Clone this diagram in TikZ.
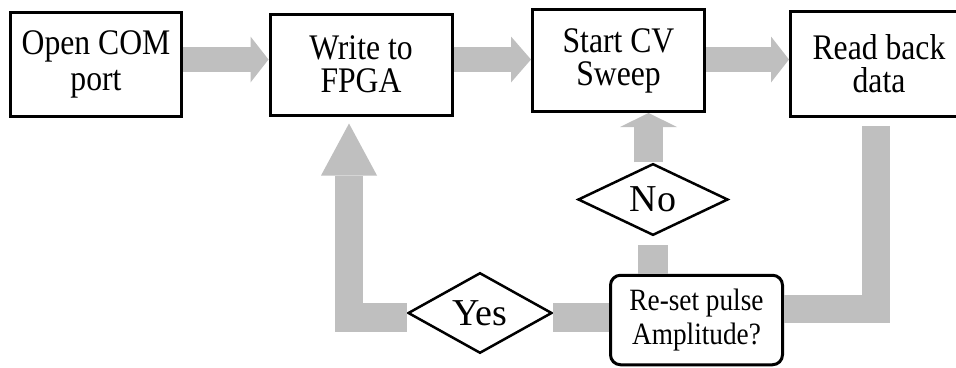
\documentclass[tikz,border=0pt]{standalone}
\usepackage{fontspec}
\setmainfont{Liberation Serif}
\newfontfamily\stepfont[FakeStretch=0.88]{Liberation Serif}
\usepackage{xcolor}
\usepackage{tikz}
\usetikzlibrary{shapes.geometric, arrows.meta, positioning, calc}

\definecolor{flowgray}{RGB}{191,191,191}

\tikzset{
  stepbox/.style={draw, line width=3pt, inner sep=0pt, align=center,
    font=\stepfont\fontsize{36pt}{33pt}\selectfont},
  decisionbox/.style={draw, line width=3pt, rounded corners=10pt, inner sep=0pt, align=center,
    font=\stepfont\fontsize{31pt}{34pt}\selectfont},
  answer/.style={draw, diamond, line width=2.5pt, inner sep=0pt,
    font=\fontsize{38pt}{40pt}\selectfont},
  fatpath/.style={draw=flowgray, line width=#1, line cap=butt},
  fatpath/.default=28pt
}

\begin{document}
\begin{tikzpicture}[x=1pt, y=-1pt, line join=miter]
  \path[use as bounding box, clip] (0,0) rectangle (956,367);

  % Process steps
  \node[stepbox, minimum width=171pt, minimum height=104pt,
    font=\stepfont\fontsize{36pt}{36pt}\selectfont] (port) at (96,64) {Open COM\\port};
  \node[stepbox, minimum width=182pt, minimum height=101pt] (fpga) at (361,64.5) {Write to\\FPGA};
  \node[stepbox, minimum width=172pt, minimum height=102pt] (sweep) at (618.5,60.5) {Start CV\\Sweep};
  \node[stepbox, minimum width=177pt, minimum height=104.5pt] (readback) at (879,64) {Read back\\data};

  % Decision and answers
  \node[decisionbox, minimum width=172pt, minimum height=89.5pt] (reset) at (696.5,320) {Re-set pulse\\Amplitude?};
  \node[answer, minimum width=144pt, minimum height=58pt] (yes) at (480,313) {Yes};
  \node[answer, minimum width=150pt, minimum height=57pt] (no) at (653,199.5) {No};

  % Rows of the gray connectors
  \coordinate (toprow) at (0,59.5);
  \coordinate (lowrow) at (0,317.5);
  \coordinate (rightrow) at (0,309);

  % Top row arrows
  \draw[fatpath=25pt, -{Triangle[width=46pt, length=18pt, line width=0pt]}]
    (port.east |- toprow) -- (fpga.west |- toprow);
  \draw[fatpath=25pt, -{Triangle[width=46pt, length=20pt, line width=0pt]}]
    (fpga.east |- toprow) -- (sweep.west |- toprow);
  \draw[fatpath=25pt, -{Triangle[width=46pt, length=18pt, line width=0pt]}]
    (sweep.east |- toprow) -- (readback.west |- toprow);

  % Read back to decision
  \draw[fatpath] ([xshift=-3.5pt, yshift=-8pt]readback.south) |- (reset.east |- rightrow);

  % No branch
  \draw[fatpath=30pt] (reset.north -| no.south) -- ([yshift=-8pt]no.south);
  \draw[fatpath=29pt, -{Triangle[width=57pt, length=14pt, line width=0pt]}]
    ([xshift=-4.5pt]no.north) -- ([xshift=-4.5pt]no.north |- sweep.south);

  % Yes branch
  \draw[fatpath=29pt] (reset.west |- lowrow) -- (yes.east |- lowrow);
  \draw[fatpath=28.5pt, -{Triangle[width=56pt, length=52pt, line width=0pt]}]
    (yes.west |- lowrow) -| ([xshift=-12pt, yshift=-7pt]fpga.south);
\end{tikzpicture}
\end{document}
